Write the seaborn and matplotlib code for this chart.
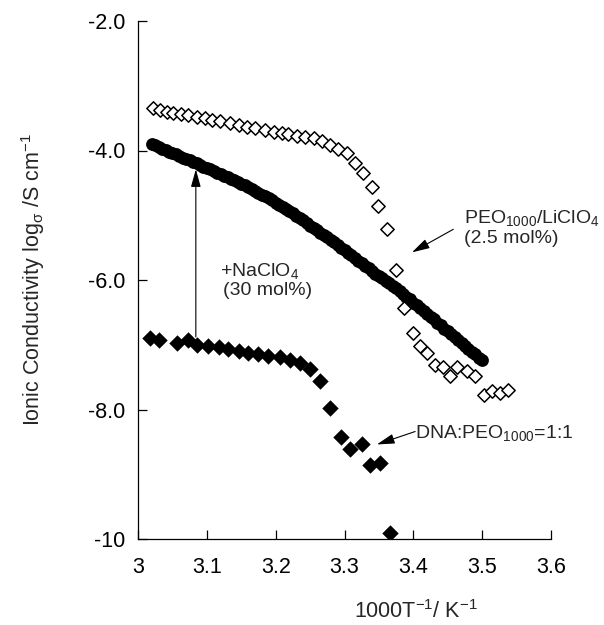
import pandas as pd
import matplotlib
matplotlib.use('Agg')
import matplotlib.pyplot as plt
import seaborn as sns

# PEO1000/LiClO4 (2.5 mol%) - open diamonds
peo_x = [3.022, 3.032, 3.042, 3.051, 3.063, 3.073, 3.085, 3.097, 3.107, 3.119,
         3.134, 3.146, 3.158, 3.170, 3.185, 3.197, 3.209, 3.218, 3.231, 3.243,
         3.255, 3.267, 3.279, 3.291, 3.303, 3.315, 3.327, 3.340, 3.349, 3.361,
         3.375, 3.386, 3.399, 3.409, 3.420, 3.432, 3.443, 3.453, 3.463, 3.478,
         3.490, 3.502, 3.514, 3.526, 3.537]
peo_y = [-3.35, -3.37, -3.40, -3.42, -3.44, -3.45, -3.48, -3.50, -3.53, -3.55,
         -3.58, -3.61, -3.63, -3.66, -3.68, -3.71, -3.73, -3.75, -3.78, -3.79,
         -3.81, -3.86, -3.92, -3.97, -4.04, -4.19, -4.35, -4.57, -4.85, -5.21,
         -5.85, -6.44, -6.82, -7.02, -7.13, -7.31, -7.34, -7.48, -7.34, -7.40,
         -7.49, -7.77, -7.71, -7.74, -7.70]

# DNA:PEO + NaClO4 (30 mol%) - filled circles, densely measured band
na_x = [3.020, 3.025, 3.030, 3.035, 3.040, 3.045, 3.050, 3.055, 3.060, 3.065,
        3.070, 3.075, 3.080, 3.085, 3.090, 3.095, 3.100, 3.105, 3.110, 3.115,
        3.120, 3.125, 3.130, 3.135, 3.140, 3.145, 3.150, 3.155, 3.160, 3.165,
        3.170, 3.175, 3.180, 3.185, 3.190, 3.195, 3.200, 3.205, 3.210, 3.215,
        3.220, 3.225, 3.230, 3.235, 3.240, 3.245, 3.250, 3.255, 3.260, 3.265,
        3.270, 3.275, 3.280, 3.285, 3.290, 3.295, 3.300, 3.305, 3.310, 3.315,
        3.320, 3.325, 3.330, 3.335, 3.340, 3.345, 3.350, 3.355, 3.360, 3.365,
        3.370, 3.375, 3.380, 3.385, 3.390, 3.395, 3.400, 3.405, 3.410, 3.415,
        3.420, 3.425, 3.430, 3.435, 3.440, 3.445, 3.450, 3.455, 3.460, 3.465,
        3.470, 3.475, 3.480, 3.485, 3.490, 3.495, 3.500]
na_y = [-3.90, -3.92, -3.95, -3.97, -3.99, -4.02, -4.04, -4.06, -4.08, -4.11,
        -4.13, -4.15, -4.18, -4.20, -4.22, -4.25, -4.27, -4.29, -4.32, -4.34,
        -4.36, -4.39, -4.41, -4.44, -4.46, -4.49, -4.51, -4.54, -4.56, -4.59,
        -4.62, -4.65, -4.68, -4.71, -4.74, -4.77, -4.81, -4.84, -4.87, -4.91,
        -4.94, -4.97, -5.01, -5.05, -5.08, -5.12, -5.16, -5.19, -5.23, -5.27,
        -5.30, -5.34, -5.38, -5.42, -5.46, -5.50, -5.54, -5.58, -5.62, -5.66,
        -5.70, -5.74, -5.78, -5.82, -5.86, -5.90, -5.94, -5.97, -6.01, -6.05,
        -6.09, -6.13, -6.17, -6.22, -6.26, -6.30, -6.35, -6.39, -6.44, -6.48,
        -6.53, -6.57, -6.61, -6.66, -6.70, -6.75, -6.79, -6.84, -6.88, -6.93,
        -6.97, -7.02, -7.06, -7.11, -7.15, -7.20, -7.24]

# DNA:PEO1000=1:1 - filled diamonds
dna_x = [3.017, 3.030, 3.056, 3.073, 3.085, 3.102, 3.117, 3.131, 3.146, 3.160,
         3.175, 3.189, 3.206, 3.221, 3.235, 3.250, 3.265, 3.279, 3.295, 3.308,
         3.325, 3.337, 3.352, 3.366]
dna_y = [-6.89, -6.92, -6.98, -6.93, -7.00, -7.02, -7.04, -7.07, -7.09, -7.12,
         -7.14, -7.17, -7.19, -7.24, -7.28, -7.38, -7.56, -7.98, -8.42, -8.61,
         -8.53, -8.86, -8.82, -9.91]

xticks = [3, 3.1, 3.2, 3.3, 3.4, 3.5, 3.6]
xtick_labels = ['3', '3.1', '3.2', '3.3', '3.4', '3.5', '3.6']
yticks = [-10, -8, -6, -4, -2]
ytick_labels = ['-10', '-8.0', '-6.0', '-4.0', '-2.0']

sns.set_style('ticks')
plt.rcParams['font.family'] = ['Liberation Sans', 'DejaVu Sans']
plt.rcParams['mathtext.fontset'] = 'custom'
plt.rcParams['mathtext.rm'] = 'Liberation Sans'
plt.rcParams['mathtext.it'] = 'Liberation Sans:italic'
plt.rcParams['mathtext.default'] = 'regular'

fig = plt.figure(figsize=(6.04, 6.25), dpi=100)
ax = fig.add_axes([0.2285, 0.1376, 0.6838, 0.8288])

sns.scatterplot(x=na_x, y=na_y, marker='o', s=85, color='black',
                edgecolor='black', linewidth=0, ax=ax, zorder=3)
sns.scatterplot(x=peo_x, y=peo_y, marker='D', s=46, color='white',
                edgecolor='black', linewidth=1.1, ax=ax, zorder=4)
sns.scatterplot(x=dna_x, y=dna_y, marker='D', s=70, color='black',
                edgecolor='black', linewidth=0, ax=ax, zorder=4)

ax.set_xlim(3, 3.6)
ax.set_ylim(-10, -2)
ax.set_xticks(xticks)
ax.set_xticklabels(xtick_labels)
ax.set_yticks(yticks)
ax.set_yticklabels(ytick_labels)
ax.tick_params(direction='in', length=6.5, width=0.9, labelsize=15.5, colors='black')
ax.tick_params(axis='x', pad=13)
ax.tick_params(axis='y', pad=9)
sns.despine(ax=ax)
for sp in ['left', 'bottom']:
    ax.spines[sp].set_linewidth(0.9)
    ax.spines[sp].set_color('black')

ax.set_xlabel('1000T$^{-1}$/ K$^{-1}$', fontsize=15.5)
ax.xaxis.label.set_va('center')
ax.xaxis.set_label_coords(0.673, -0.141)
ax.set_ylabel('Ionic Conductivity log$_{\\sigma}$ /S cm$^{-1}$', fontsize=15.5)
ax.yaxis.label.set_va('center')
ax.yaxis.set_label_coords(-0.254, 0.5)

arrow = dict(arrowstyle='-|>,head_length=0.9,head_width=0.25', color='black',
             lw=0.8, mutation_scale=12, shrinkA=0, shrinkB=0)
ax.annotate('', xy=(3.084, -4.29), xytext=(3.084, -6.88), arrowprops=arrow)
ax.annotate('', xy=(3.398, -5.573), xytext=(3.458, -5.217), arrowprops=arrow)
ax.annotate('', xy=(3.347, -8.54), xytext=(3.4026, -8.34), arrowprops=arrow)

ax.text(3.119, -5.94, '+NaClO$_4$', fontsize=14, va='baseline')
ax.text(3.124, -6.23, '(30 mol%)', fontsize=14, va='baseline')
ax.text(3.473, -5.115, 'PEO$_{1000}$/LiClO$_4$', fontsize=14, va='baseline')
ax.text(3.473, -5.43, '(2.5 mol%)', fontsize=14, va='baseline')
ax.text(3.4026, -8.435, 'DNA:PEO$_{1000}$=1:1', fontsize=14, va='baseline')

fig.savefig('out.png', dpi=100)
